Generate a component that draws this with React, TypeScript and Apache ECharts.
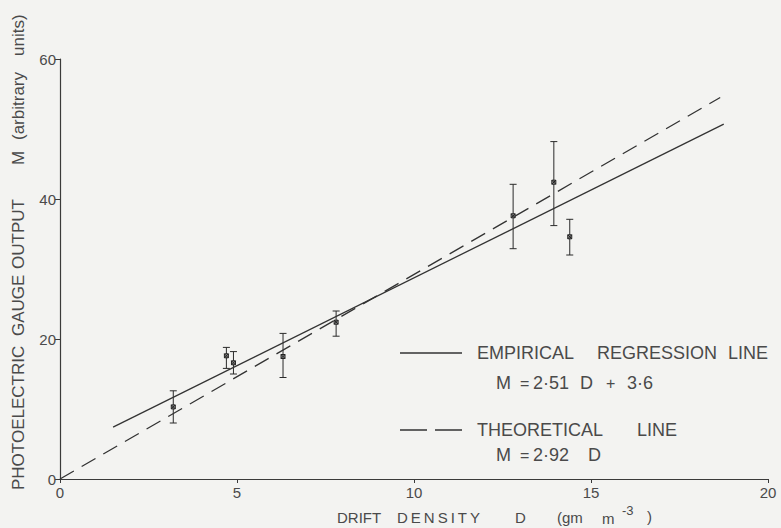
import React, { useEffect, useRef } from "react";
import * as echarts from "echarts";

// ---- data ----
const densityD = [3.2, 4.7, 4.9, 6.3, 7.8, 12.8, 13.95, 14.4];
const outputM = [10.3, 17.6, 16.6, 17.5, 22.4, 37.6, 42.4, 34.6];
const errLow = [8.0, 15.8, 15.0, 14.5, 20.4, 32.9, 36.2, 32.0];
const errHigh = [12.6, 18.8, 18.2, 20.8, 24.0, 42.1, 48.2, 37.1];

const empiricalLine = [
  [1.5, 7.4],
  [18.75, 50.7],
];
const theoreticalLine = [
  [0, 0],
  [18.65, 54.5],
];

const xTicks = { min: 0, max: 20, interval: 5 };
const yTicks = { min: 0, max: 60, interval: 20 };

const FONT = "'Liberation Sans', Arial, sans-serif";
const TEXT_COLOR = "#4a4a4a";
const LINE_COLOR = "#333";

function txt(text: string, x: number, y: number, size: number, extra: any = {}) {
  return {
    type: "text",
    x,
    y,
    silent: true,
    ...extra,
    style: {
      text,
      fill: TEXT_COLOR,
      font: `${size}px ${FONT}`,
      textAlign: "left",
      textVerticalAlign: "middle",
      ...(extra.style || {}),
    },
  };
}

function vtxt(text: string, yBottom: number) {
  return txt(text, 18, yBottom, 17, { rotation: Math.PI / 2 });
}

export default function App() {
  const ref = useRef<HTMLDivElement>(null);
  useEffect(() => {
    if (!ref.current) return;
    const chart = echarts.init(ref.current, undefined, { renderer: "svg" });
    const errData = densityD.map((d, i) => [d, outputM[i], errLow[i], errHigh[i]]);
    const option: any = {
      animation: false,
      backgroundColor: "#f3f3f1",
      grid: { left: 60, right: 13, top: 59, bottom: 49 },
      xAxis: {
        type: "value",
        min: xTicks.min,
        max: xTicks.max,
        interval: xTicks.interval,
        splitLine: { show: false },
        axisLine: { show: true, lineStyle: { color: "#3a3a3a", width: 1.2 } },
        axisTick: { show: true, length: 4, lineStyle: { color: "#3a3a3a" } },
        axisLabel: { color: TEXT_COLOR, fontSize: 15, fontFamily: FONT, margin: 6 },
      },
      yAxis: {
        type: "value",
        min: yTicks.min,
        max: yTicks.max,
        interval: yTicks.interval,
        splitLine: { show: false },
        axisLine: { show: true, lineStyle: { color: "#3a3a3a", width: 1.2 } },
        axisTick: { show: true, length: 5, lineStyle: { color: "#3a3a3a" } },
        axisLabel: { color: TEXT_COLOR, fontSize: 15, fontFamily: FONT, margin: 4 },
      },
      series: [
        {
          type: "line",
          data: empiricalLine,
          showSymbol: false,
          symbol: "none",
          lineStyle: { color: LINE_COLOR, width: 1.3 },
          silent: true,
        },
        {
          type: "line",
          data: theoreticalLine,
          showSymbol: false,
          symbol: "none",
          lineStyle: { color: LINE_COLOR, width: 1.3, type: [16, 9] },
          silent: true,
        },
        {
          type: "custom",
          data: errData,
          encode: { x: 0, y: 1 },
          silent: true,
          renderItem: (params: any, api: any) => {
            const x = api.value(0);
            const p = api.coord([x, api.value(1)]);
            const lo = api.coord([x, api.value(2)]);
            const hi = api.coord([x, api.value(3)]);
            const st = { stroke: "#2a2a2a", lineWidth: 1 };
            const cw = 3.5;
            const m = 2;
            return {
              type: "group",
              children: [
                { type: "line", shape: { x1: p[0], y1: hi[1], x2: p[0], y2: lo[1] }, style: st },
                { type: "line", shape: { x1: p[0] - cw, y1: hi[1], x2: p[0] + cw, y2: hi[1] }, style: st },
                { type: "line", shape: { x1: p[0] - cw, y1: lo[1], x2: p[0] + cw, y2: lo[1] }, style: st },
                {
                  type: "rect",
                  shape: { x: p[0] - m, y: p[1] - m, width: 2 * m, height: 2 * m },
                  style: { fill: "#9a9a9a", stroke: "#222", lineWidth: 1 },
                },
                { type: "line", shape: { x1: p[0] - m, y1: p[1] - m, x2: p[0] + m, y2: p[1] + m }, style: { stroke: "#222", lineWidth: 1 } },
                { type: "line", shape: { x1: p[0] - m, y1: p[1] + m, x2: p[0] + m, y2: p[1] - m }, style: { stroke: "#222", lineWidth: 1 } },
              ],
            };
          },
        },
      ],
      graphic: [
        // legend
        { type: "line", silent: true, shape: { x1: 400, y1: 353, x2: 462, y2: 353 }, style: { stroke: LINE_COLOR, lineWidth: 1.3 } },
        txt("EMPIRICAL", 477, 353, 18),
        txt("REGRESSION", 597, 353, 18),
        txt("LINE", 728, 353, 18),
        txt("M", 496, 383, 18),
        txt("=", 520, 383, 16),
        txt("2·51", 533, 383, 18),
        txt("D", 580, 383, 18),
        txt("+", 606, 383, 16),
        txt("3·6", 627, 383, 18),
        {
          type: "line",
          silent: true,
          shape: { x1: 400, y1: 430, x2: 462, y2: 430 },
          style: { stroke: LINE_COLOR, lineWidth: 1.3, lineDash: [27, 8] },
        },
        txt("THEORETICAL", 477, 430, 18),
        txt("LINE", 637, 430, 18),
        txt("M", 496, 455, 18),
        txt("=", 520, 455, 16),
        txt("2·92", 533, 455, 18),
        txt("D", 588, 455, 18),
        // x axis name
        txt("DRIFT", 337, 517, 15),
        txt("D\u2009E\u2009N\u2009S\u2009I\u2009T\u2009Y", 397, 517, 15),
        txt("D", 515, 517, 15),
        txt("(gm", 557, 517, 15),
        txt("m", 602, 518, 15),
        txt("-3", 622, 510, 13),
        txt(")", 647, 516, 15),
        // y axis name (rotated)
        vtxt("PHOTOELECTRIC", 490),
        vtxt("GAUGE", 336),
        vtxt("OUTPUT", 269),
        vtxt("M", 165),
        vtxt("(arbitrary", 140),
        vtxt("units)", 56),
      ],
    };
    chart.setOption(option);
    return () => chart.dispose();
  }, []);
  return (
    <div
      ref={ref}
      style={{ position: "absolute", left: 0, top: 0, width: 781, height: 528 }}
    />
  );
}
